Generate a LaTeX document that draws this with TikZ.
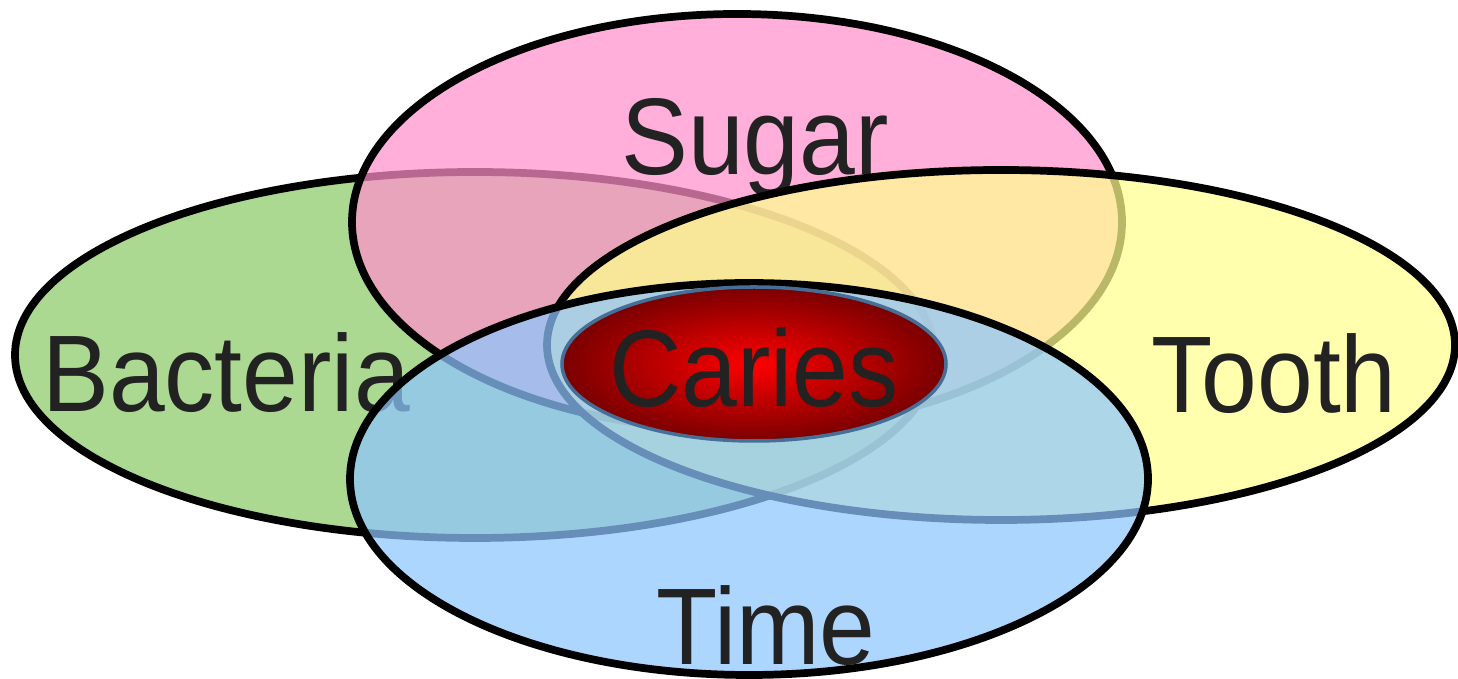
\documentclass[tikz,border=0pt]{standalone}
\usepackage{fontspec}
\setmainfont{Liberation Sans}
\usepackage{xcolor}
\usetikzlibrary{shapes.geometric,positioning}

\definecolor{bactgreen}{RGB}{139,202,102}
\definecolor{sugarpink}{RGB}{255,144,202}
\definecolor{toothyellow}{RGB}{255,255,142}
\definecolor{timeblue}{RGB}{142,198,255}
\definecolor{corered}{RGB}{122,0,0}
\definecolor{corerim}{RGB}{70,110,150}
\definecolor{wordgray}{RGB}{34,34,34}

\begin{document}
\begin{tikzpicture}[
  set/.style={draw, ellipse, line width=2.2pt, inner sep=0pt, fill opacity=0.72},
  core/.style={draw=corerim, ellipse, line width=1pt, inner sep=0pt, inner color=red, outer color=corered},
  word/.style={font=\fontsize{31}{36}\selectfont, text=wordgray, anchor=base, xscale=0.92, transform shape, inner sep=0pt}
]

\useasboundingbox (0,0) rectangle (14.58,6.79);

% LEFT: bacteria
\node[set, fill=bactgreen, minimum width=9.2cm, minimum height=3.66cm] (bact) at (4.75,3.24) {};
\node[word] (bactlbl) at (2.26,2.67) {Bacteria};

% TOP: sugar
\node[set, fill=sugarpink, minimum width=7.7cm, minimum height=4.16cm] (sugar) at (7.37,4.57) {};
\node[word] (sugarlbl) at (7.55,5.04) {Sugar};

% RIGHT: tooth
\node[set, fill=toothyellow, minimum width=9.08cm, minimum height=3.5cm] (tooth) at (10.01,3.34) {};
\node[word] (toothlbl) at (12.74,2.66) {Tooth};

% BOTTOM: time
\node[set, fill=timeblue, minimum width=7.98cm, minimum height=3.92cm] (time) at (7.49,2.00) {};
\node[word] (timelbl) at (7.66,0.14) {Time};

% centre: caries
\node[core, minimum width=3.84cm, minimum height=1.54cm] (caries) at (7.54,3.15) {};
\node[word] (carieslbl) at (7.54,2.72) {Caries};

\end{tikzpicture}
\end{document}
